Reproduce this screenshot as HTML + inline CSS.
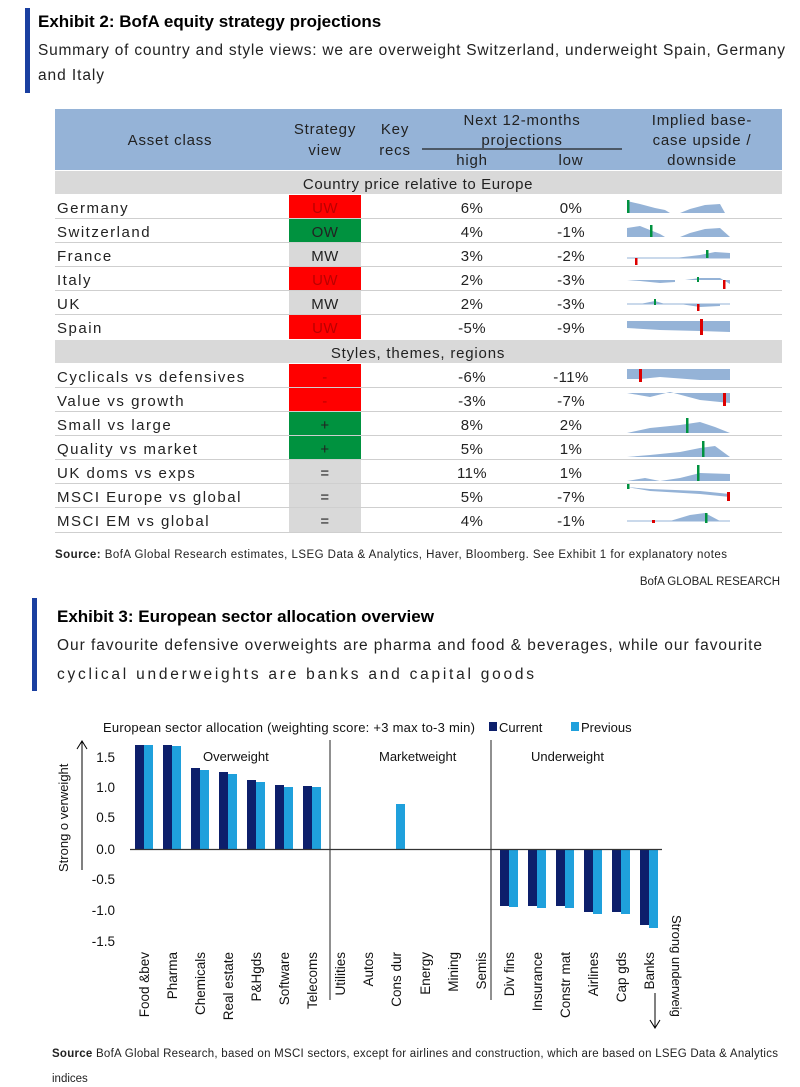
<!DOCTYPE html>
<html><head><meta charset="utf-8"><style>
body{margin:0;background:#fff;}
svg{display:block;font-family:"Liberation Sans",sans-serif;}
</style></head><body>
<svg width="800" height="1087" viewBox="0 0 800 1087" xmlns="http://www.w3.org/2000/svg">
<!-- Exhibit 2 -->
<rect x="25" y="8" width="5" height="85" fill="#1a3fa0"/>
<text x="38" y="27" font-size="17" font-weight="bold" fill="#000">Exhibit 2: BofA equity strategy projections</text>
<text x="38" y="55" font-size="15.5" fill="#222" textLength="747" lengthAdjust="spacing">Summary of country and style views: we are overweight Switzerland, underweight Spain, Germany</text>
<text x="38" y="80" font-size="15.5" fill="#222" textLength="66" lengthAdjust="spacing">and Italy</text>

<rect x="55" y="109" width="727" height="61" fill="#95b3d7"/>
<g font-size="15" fill="#222" text-anchor="middle" letter-spacing="0.8">
<text x="170" y="145">Asset class</text>
<text x="325" y="134">Strategy</text><text x="325" y="155">view</text>
<text x="395" y="134">Key</text><text x="395" y="155">recs</text>
<text x="522" y="125">Next 12-months</text><text x="522" y="145">projections</text>
<text x="472" y="165">high</text><text x="571" y="165">low</text>
<text x="702" y="125">Implied base-</text><text x="702" y="145">case upside /</text><text x="702" y="165">downside</text>
</g>
<line x1="422" y1="149" x2="622" y2="149" stroke="#222" stroke-width="1.2"/>
<rect x="55" y="171" width="727" height="23" fill="#d9d9d9"/>
<text x="418" y="189" font-size="15" text-anchor="middle" fill="#222" letter-spacing="0.6">Country price relative to Europe</text>
<rect x="55" y="340" width="727" height="23" fill="#d9d9d9"/>
<text x="418" y="358" font-size="15" text-anchor="middle" fill="#222" letter-spacing="0.8">Styles, themes, regions</text>

<!-- strategy cells -->
<g>
<rect x="289" y="195" width="72" height="23" fill="#ff0000"/>
<rect x="289" y="219" width="72" height="23" fill="#00923f"/>
<rect x="289" y="243" width="72" height="23" fill="#d9d9d9"/>
<rect x="289" y="267" width="72" height="23" fill="#ff0000"/>
<rect x="289" y="291" width="72" height="23" fill="#d9d9d9"/>
<rect x="289" y="315" width="72" height="24" fill="#ff0000"/>
<rect x="289" y="364" width="72" height="23" fill="#ff0000"/>
<rect x="289" y="388" width="72" height="23" fill="#ff0000"/>
<rect x="289" y="412" width="72" height="23" fill="#00923f"/>
<rect x="289" y="436" width="72" height="23" fill="#00923f"/>
<rect x="289" y="460" width="72" height="23" fill="#d9d9d9"/>
<rect x="289" y="484" width="72" height="23" fill="#d9d9d9"/>
<rect x="289" y="508" width="72" height="24" fill="#d9d9d9"/>
</g>
<g stroke="#cfcfcf" stroke-width="1">
<line x1="55" y1="218.5" x2="782" y2="218.5"/><line x1="55" y1="242.5" x2="782" y2="242.5"/>
<line x1="55" y1="266.5" x2="782" y2="266.5"/><line x1="55" y1="290.5" x2="782" y2="290.5"/>
<line x1="55" y1="314.5" x2="782" y2="314.5"/>
<line x1="55" y1="387.5" x2="782" y2="387.5"/><line x1="55" y1="411.5" x2="782" y2="411.5"/>
<line x1="55" y1="435.5" x2="782" y2="435.5"/><line x1="55" y1="459.5" x2="782" y2="459.5"/>
<line x1="55" y1="483.5" x2="782" y2="483.5"/><line x1="55" y1="507.5" x2="782" y2="507.5"/>
<line x1="55" y1="532.5" x2="782" y2="532.5"/>
</g>
<g font-size="15" fill="#222" letter-spacing="1.5">
<text x="57" y="213">Germany</text><text x="57" y="237">Switzerland</text><text x="57" y="261">France</text>
<text x="57" y="285">Italy</text><text x="57" y="309">UK</text><text x="57" y="333">Spain</text>
<text x="57" y="382">Cyclicals vs defensives</text><text x="57" y="406">Value vs growth</text>
<text x="57" y="430">Small vs large</text><text x="57" y="454">Quality vs market</text>
<text x="57" y="478">UK doms vs exps</text><text x="57" y="502">MSCI Europe vs global</text>
<text x="57" y="526">MSCI EM vs global</text>
</g>
<g font-size="15" text-anchor="middle" fill="#222" letter-spacing="0.4">
<text x="325" y="213" fill="#b00">UW</text><text x="325" y="237">OW</text><text x="325" y="261">MW</text>
<text x="325" y="285" fill="#b00">UW</text><text x="325" y="309">MW</text><text x="325" y="333" fill="#b00">UW</text>
<text x="325" y="382" fill="#b00">-</text><text x="325" y="406" fill="#b00">-</text>
<text x="325" y="430">+</text><text x="325" y="454">+</text>
<text x="325" y="478">=</text><text x="325" y="502">=</text><text x="325" y="526">=</text>
<text x="472" y="213">6%</text><text x="571" y="213">0%</text>
<text x="472" y="237">4%</text><text x="571" y="237">-1%</text>
<text x="472" y="261">3%</text><text x="571" y="261">-2%</text>
<text x="472" y="285">2%</text><text x="571" y="285">-3%</text>
<text x="472" y="309">2%</text><text x="571" y="309">-3%</text>
<text x="472" y="333">-5%</text><text x="571" y="333">-9%</text>
<text x="472" y="382">-6%</text><text x="571" y="382">-11%</text>
<text x="472" y="406">-3%</text><text x="571" y="406">-7%</text>
<text x="472" y="430">8%</text><text x="571" y="430">2%</text>
<text x="472" y="454">5%</text><text x="571" y="454">1%</text>
<text x="472" y="478">11%</text><text x="571" y="478">1%</text>
<text x="472" y="502">5%</text><text x="571" y="502">-7%</text>
<text x="472" y="526">4%</text><text x="571" y="526">-1%</text>
</g>
<!-- sparklines -->
<g fill="#95b3d7">
<path d="M627 213 L627 201 L640 204 L655 208 L665 210 L670 213 Z"/><path d="M680 213 L690 209 L705 205 L720 204 L725 213 Z"/>
<path d="M627 237 L627 228 L640 226 L650 230 L660 234 L665 237 Z"/><path d="M680 237 L690 233 L705 229 L720 228 L730 237 Z"/>
<path d="M675 258 L700 255 L715 252 L730 253 L730 258 Z"/>
<path d="M627 280 L640 281 L660 283 L675 282 L675 280 Z"/><path d="M685 280 L700 278 L720 278 L730 284 L730 280 Z"/>
<path d="M640 304 L655 301 L665 304 Z"/><path d="M680 304 L700 307 L720 306 L720 304 Z"/>
<path d="M627 321 L730 321 L730 332 L700 331 L660 330 L627 328 Z"/>
<path d="M627 369 L730 369 L730 380 L700 380 L660 377 L640 379 L627 379 Z"/>
<path d="M627 393 L650 397 L670 392 L700 400 L730 403 L730 393 Z"/>
<path d="M627 433 L650 428 L680 425 L700 422 L715 427 L730 433 Z"/>
<path d="M627 457 L650 455 L680 452 L700 448 L715 446 L730 457 Z"/>
<path d="M627 481 L645 478 L660 481 L680 478 L700 473 L730 474 L730 481 Z"/>
<path d="M627 487 L650 491 L700 494 L730 497 L730 494 L700 491 L650 489 Z"/>
<path d="M670 521 L690 515 L705 513 L720 521 Z"/>
</g>
<g stroke="#95b3d7" stroke-width="1" fill="none">
<line x1="627" y1="258" x2="730" y2="258"/><line x1="627" y1="304" x2="730" y2="304"/>
<line x1="627" y1="521" x2="730" y2="521"/>
</g>
<g>
<rect x="627" y="200" width="2.5" height="13" fill="#00923f"/>
<rect x="650" y="225" width="2.5" height="12" fill="#00923f"/>
<rect x="635" y="258" width="2.5" height="7" fill="#d00"/><rect x="706" y="250" width="2.5" height="8" fill="#00923f"/>
<rect x="723" y="280" width="2.5" height="9" fill="#d00"/><rect x="697" y="277" width="2" height="5" fill="#00923f"/>
<rect x="654" y="299" width="2" height="6" fill="#00923f"/><rect x="697" y="304" width="2.5" height="7" fill="#d00"/>
<rect x="700" y="319" width="3" height="16" fill="#d00"/>
<rect x="639" y="369" width="3" height="13" fill="#d00"/>
<rect x="723" y="393" width="3" height="13" fill="#d00"/>
<rect x="686" y="418" width="2.5" height="15" fill="#00923f"/>
<rect x="702" y="441" width="2.5" height="16" fill="#00923f"/>
<rect x="697" y="465" width="2.5" height="16" fill="#00923f"/>
<rect x="627" y="484" width="2.5" height="5" fill="#00923f"/><rect x="727" y="492" width="3" height="9" fill="#d00"/>
<rect x="652" y="520" width="3" height="3" fill="#d00"/><rect x="705" y="513" width="2.5" height="10" fill="#00923f"/>
</g>
<text x="55" y="558" font-size="11.5" fill="#222" textLength="672" lengthAdjust="spacing"><tspan font-weight="bold">Source:</tspan> BofA Global Research estimates, LSEG Data &amp; Analytics, Haver, Bloomberg. See Exhibit 1 for explanatory notes</text>
<text x="780" y="585" font-size="11.5" text-anchor="end" fill="#222">BofA GLOBAL RESEARCH</text>

<!-- Exhibit 3 -->
<rect x="32" y="598" width="5" height="93" fill="#1a3fa0"/>
<text x="57" y="622" font-size="17" font-weight="bold" fill="#000">Exhibit 3: European sector allocation overview</text>
<text x="57" y="650" font-size="15.5" fill="#222" textLength="705" lengthAdjust="spacing">Our favourite defensive overweights are pharma and food &amp; beverages, while our favourite</text>
<text x="57" y="679" font-size="15.5" fill="#222" textLength="477" lengthAdjust="spacing">cyclical underweights are banks and capital goods</text>

<text x="103" y="732" font-size="13" fill="#111" textLength="372" lengthAdjust="spacing">European sector allocation (weighting score: +3 max to-3 min)</text>
<rect x="489" y="722" width="8" height="9" fill="#0d1f6b"/><text x="499" y="732" font-size="13" fill="#111">Current</text>
<rect x="571" y="722" width="8" height="9" fill="#1fa0dc"/><text x="581" y="732" font-size="13" fill="#111">Previous</text>
<g font-size="13" fill="#111">
<text x="203" y="761">Overweight</text><text x="379" y="761">Marketweight</text><text x="531" y="761">Underweight</text>
</g>
<g font-size="13.5" fill="#111" text-anchor="end">
<text x="115" y="762">1.5</text><text x="115" y="792">1.0</text><text x="115" y="822">0.5</text>
<text x="115" y="854">0.0</text><text x="115" y="884">-0.5</text><text x="115" y="915">-1.0</text><text x="115" y="946">-1.5</text>
</g>
<line x1="82" y1="870" x2="82" y2="742" stroke="#000" stroke-width="1"/>
<path d="M77 749 L82 741 L87 749" fill="none" stroke="#000"/>
<text transform="translate(68,872) rotate(-90)" font-size="13" fill="#111">Strong o verweight</text>
<line x1="655" y1="993" x2="655" y2="1027" stroke="#000"/>
<path d="M650 1020 L655 1028 L660 1020" fill="none" stroke="#000"/>
<text transform="translate(672,915) rotate(90)" font-size="13" fill="#111">Strong underweig</text>

<line x1="330" y1="740" x2="330" y2="1000" stroke="#222"/>
<line x1="491" y1="740" x2="491" y2="1000" stroke="#222"/>

<g fill="#0d1f6b">
<rect x="135" y="745" width="9" height="104"/><rect x="163" y="745" width="9" height="104"/>
<rect x="191" y="768" width="9" height="81"/><rect x="219" y="772" width="9" height="77"/>
<rect x="247" y="780" width="9" height="69"/><rect x="275" y="785" width="9" height="64"/>
<rect x="303" y="786" width="9" height="63"/>
<rect x="500" y="849" width="9" height="57"/><rect x="528" y="849" width="9" height="57"/>
<rect x="556" y="849" width="9" height="57"/><rect x="584" y="849" width="9" height="63"/>
<rect x="612" y="849" width="9" height="63"/><rect x="640" y="849" width="9" height="76"/>
</g>
<g fill="#1fa0dc">
<rect x="144" y="745" width="9" height="104"/><rect x="172" y="746" width="9" height="103"/>
<rect x="200" y="770" width="9" height="79"/><rect x="228" y="774" width="9" height="75"/>
<rect x="256" y="782" width="9" height="67"/><rect x="284" y="787" width="9" height="62"/>
<rect x="312" y="787" width="9" height="62"/>
<rect x="396" y="804" width="9" height="45"/>
<rect x="509" y="849" width="9" height="58"/><rect x="537" y="849" width="9" height="59"/>
<rect x="565" y="849" width="9" height="59"/><rect x="593" y="849" width="9" height="65"/>
<rect x="621" y="849" width="9" height="65"/><rect x="649" y="849" width="9" height="79"/>
</g>
<line x1="130" y1="849.5" x2="662" y2="849.5" stroke="#333" stroke-width="1.2"/>

<g font-size="13.5" fill="#111" text-anchor="end">
<text transform="translate(149,952) rotate(-90)">Food &amp;bev</text>
<text transform="translate(177,952) rotate(-90)">Pharma</text>
<text transform="translate(205,952) rotate(-90)">Chemicals</text>
<text transform="translate(233,952) rotate(-90)">Real estate</text>
<text transform="translate(261,952) rotate(-90)">P&amp;Hgds</text>
<text transform="translate(289,952) rotate(-90)">Software</text>
<text transform="translate(317,952) rotate(-90)">Telecoms</text>
<text transform="translate(345,952) rotate(-90)">Utilities</text>
<text transform="translate(373,952) rotate(-90)">Autos</text>
<text transform="translate(401,952) rotate(-90)">Cons dur</text>
<text transform="translate(430,952) rotate(-90)">Energy</text>
<text transform="translate(458,952) rotate(-90)">Mining</text>
<text transform="translate(486,952) rotate(-90)">Semis</text>
<text transform="translate(514,952) rotate(-90)">Div fins</text>
<text transform="translate(542,952) rotate(-90)">Insurance</text>
<text transform="translate(570,952) rotate(-90)">Constr mat</text>
<text transform="translate(598,952) rotate(-90)">Airlines</text>
<text transform="translate(626,952) rotate(-90)">Cap gds</text>
<text transform="translate(654,952) rotate(-90)">Banks</text>
</g>

<text x="52" y="1057" font-size="11.5" fill="#222" textLength="726" lengthAdjust="spacing"><tspan font-weight="bold">Source</tspan> BofA Global Research, based on MSCI sectors, except for airlines and construction, which are based on LSEG Data &amp; Analytics</text>
<text x="52" y="1082" font-size="11.5" fill="#222">indices</text>
</svg>
</body></html>
